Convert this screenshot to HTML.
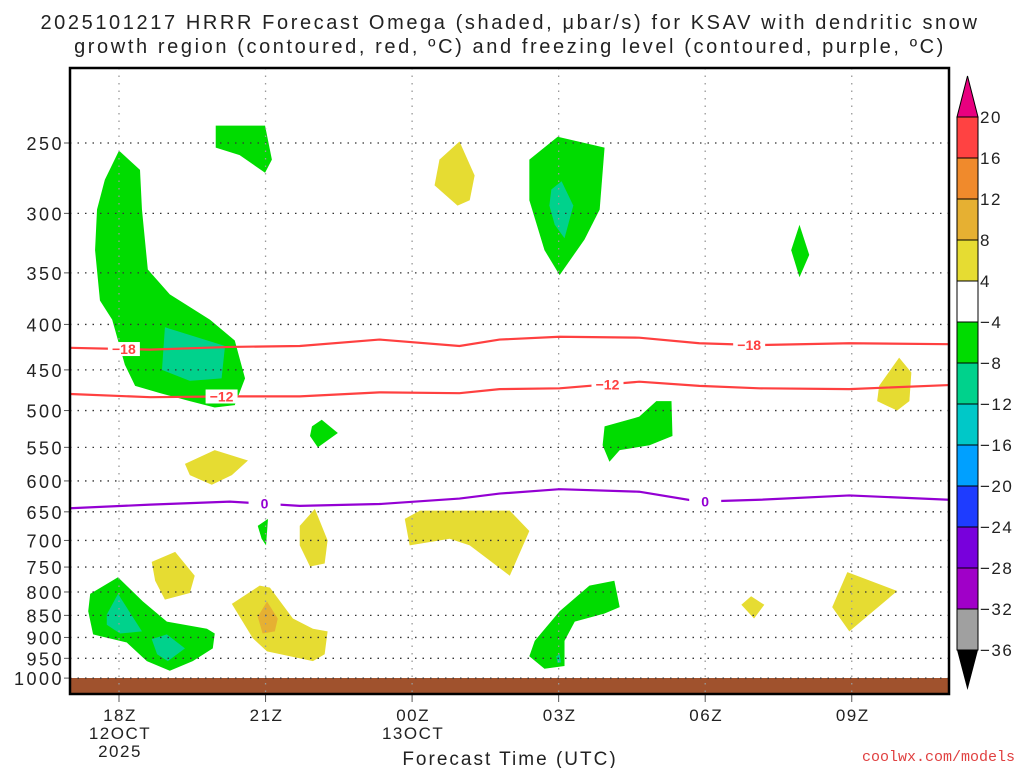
<!DOCTYPE html>
<html><head><meta charset="utf-8"><style>
body{margin:0;background:#fff;width:1024px;height:768px;overflow:hidden}
svg text{font-family:"Liberation Sans",sans-serif}
</style></head><body>
<svg id="c" width="1024" height="768" xmlns="http://www.w3.org/2000/svg">
<text x="510" y="29" font-size="20" letter-spacing="2.6" text-anchor="middle" fill="#222">2025101217 HRRR Forecast Omega (shaded, μbar/s) for KSAV with dendritic snow</text>
<text x="510" y="53" font-size="20" letter-spacing="2.6" text-anchor="middle" fill="#222">growth region (contoured, red, ºC) and freezing level (contoured, purple, ºC)</text>
<g id="plot"></g>
<text x="510" y="765" font-size="19" letter-spacing="2" text-anchor="middle" fill="#222">Forecast Time (UTC)</text>
<text x="1015" y="761" font-size="15" text-anchor="end" fill="#e04040" style="font-family:'Liberation Mono',monospace">coolwx.com/models</text>
<g id="cbar"></g>
</svg>
<script>
const pressureTicks=[250,300,350,400,450,500,550,600,650,700,750,800,850,900,950,1000];
const timeTicks=[0,3,6,9,12,15];
const timeLabels=[["18Z","12OCT","2025"],["21Z"],["00Z","13OCT"],["03Z"],["06Z"],["09Z"]];
const cbarLevels=[20,16,12,8,4,-4,-8,-12,-16,-20,-24,-28,-32,-36];
const cbarColors=["#ff4242","#f08a2c","#e6b032","#e6dc32","#ffffff","#00dc00","#00d28c","#00c8c8","#00a0ff","#1e3cff","#7800dc","#a000c8","#a0a0a0"];
const green="#00dc00",teal="#00d28c",yel="#e6dc32",org="#e6b032";
const regions=[
[green,[[0,255],[0.43,268],[0.47,297],[0.59,347],[1.04,370],[1.86,395],[2.37,417],[2.58,460],[2.37,493],[1.96,496],[1.45,488],[0.84,478],[0.33,469],[0.12,444],[-0.14,395],[-0.39,376],[-0.49,330],[-0.45,297],[-0.29,275]]],
[teal,[[0.94,403],[2.17,423],[2.1,460],[1.45,463],[0.88,450]]],
[green,[[1.98,239],[2.99,239],[3.13,261],[2.99,270],[2.47,258],[1.98,253]]],
[yel,[[6.56,261],[6.97,249],[7.28,272],[7.18,290],[6.93,294],[6.46,279]]],
[green,[[8.4,261],[8.98,246],[9.94,253],[9.84,297],[9.53,321],[9.02,352],[8.71,330],[8.4,290]]],
[teal,[[8.85,282],[9.06,276],[9.3,294],[9.12,320],[8.92,309],[8.81,294]]],
[green,[[13.93,309],[14.13,334],[13.93,354],[13.76,330]]],
[yel,[[15.56,469],[15.97,436],[16.22,453],[16.18,488],[15.93,500],[15.52,488]]],
[green,[[9.94,521],[10.65,508],[11.0,488],[11.31,488],[11.33,534],[10.86,547],[10.25,554],[10.04,571],[9.9,547]]],
[green,[[3.95,521],[4.15,512],[4.48,530],[4.07,550],[3.91,534]]],
[yel,[[1.35,574],[1.96,554],[2.64,569],[2.31,591],[1.9,606],[1.45,591]]],
[green,[[2.84,674],[3.05,662],[3.01,709],[2.92,697]]],
[yel,[[3.7,674],[4.01,645],[4.27,700],[4.21,743],[3.91,749],[3.7,709]]],
[yel,[[5.85,662],[6.16,648],[8.0,648],[8.4,683],[8.0,767],[7.18,709],[6.77,697],[5.95,709]]],
[yel,[[0.67,740],[1.15,721],[1.55,767],[1.45,802],[0.94,816],[0.74,777]]],
[green,[[-0.59,804],[-0.02,770],[0.49,820],[0.98,864],[1.8,880],[1.96,891],[1.92,926],[1.51,957],[1.04,981],[0.57,957],[0.16,912],[-0.53,893],[-0.63,841]]],
[teal,[[-0.25,848],[-0.02,804],[0.47,886],[0.02,891],[-0.25,871]]],
[teal,[[0.67,904],[0.98,893],[1.35,926],[1.0,957],[0.78,940]]],
[yel,[[2.31,825],[2.88,787],[3.09,791],[3.56,857],[3.97,880],[4.27,886],[4.21,940],[3.97,957],[3.03,933],[2.74,902]]],
[org,[[3.03,820],[3.25,857],[3.19,886],[2.94,891],[2.84,853]]],
[green,[[9.02,841],[9.63,787],[10.14,777],[10.25,832],[9.94,846],[9.33,864],[9.12,908],[9.12,969],[8.71,976],[8.4,945],[8.51,908]]],
[teal,[[8.95,945],[9.02,940],[9.05,960],[8.98,962]]],
[yel,[[12.94,809],[13.21,827],[13.0,857],[12.74,827]]],
[yel,[[14.91,760],[15.93,798],[14.95,886],[14.6,832]]]
];
const lineHours=[-1,0.64,2.27,3.7,5.33,6.97,7.79,9.02,10.65,11.88,13.11,14.95,17];
const dgz18=[425,427,424,423,416,423,416,413,414,420,422,420,421];
const dgz12=[479,483,482,482,477,478,473,472,464,469,472,473,468];
const frz0=[644,638,633,640,637,628,620,613,617,633,630,623,630];
const ns="http://www.w3.org/2000/svg";
const L=70,R=949,T=68,B=694;
const X=h=>119+h*48.85;
const Y=p=>143+386*Math.log(p/250);
const plot=document.getElementById('plot');
function mk(tag,attrs,parent){const e=document.createElementNS(ns,tag);for(const k in attrs)e.setAttribute(k,attrs[k]);(parent||plot).appendChild(e);return e;}
const defsEl=mk('defs',{});const cp=mk('clipPath',{id:'pc'},defsEl);mk('rect',{x:L,y:T,width:R-L,height:B-T},cp);
const g=mk('g',{'clip-path':'url(#pc)'});
regions.forEach((r,i)=>{const e=mk('polygon',{points:r[1].map(q=>X(q[0])+','+Y(q[1])).join(' '),fill:r[0]},g);

});
const gr=mk('rect',{x:L,y:678,width:R-L,height:B-678,fill:'#a0522d'},g);


pressureTicks.forEach(p=>{const e=mk('line',{x1:L,x2:R,y1:Y(p),y2:Y(p),stroke:'#333','stroke-width':1.3,'stroke-dasharray':'1.5 6'},g);


const t=mk('text',{x:64,y:Y(p)+7,'font-size':18,'letter-spacing':2.5,'text-anchor':'end',fill:'#222'});t.textContent=p;


mk('line',{x1:L-6,x2:L,y1:Y(p),y2:Y(p),stroke:'#555'});});
timeTicks.forEach((h,i)=>{const e=mk('line',{x1:X(h),x2:X(h),y1:T,y2:B,stroke:'#999','stroke-width':1.3,'stroke-dasharray':'1.5 6'},g);


mk('line',{x1:X(h),x2:X(h),y1:B,y2:B+8,stroke:'#555'});
timeLabels[i].forEach((s,j)=>{const t=mk('text',{x:X(h)+1,y:721+j*18,'font-size':17,'letter-spacing':1.5,'text-anchor':'middle',fill:'#222'});t.textContent=s;

});});
function line(vals,color,name,labels,lab){const d=lineHours.map((h,i)=>(i?'L':'M')+X(h)+','+Y(vals[i])).join('');
const e=mk('path',{d:d,fill:'none',stroke:color,'stroke-width':2.2},g);


labels.forEach(h=>{let i=0;while(i<lineHours.length-2&&lineHours[i+1]<h)i++;const f=(h-lineHours[i])/(lineHours[i+1]-lineHours[i]);const p=vals[i]+f*(vals[i+1]-vals[i]);
mk('rect',{x:X(h)-16,y:Y(p)-7,width:32,height:14,fill:'#fff'},g);
const t=mk('text',{x:X(h),y:Y(p)+5,'font-size':14,'font-weight':'bold','text-anchor':'middle',fill:color},g);t.textContent=lab;

});}
line(dgz18,'#ff4040','dgz-minus18-contour',[0.1,12.9],'−18');
line(dgz12,'#ff4040','dgz-minus12-contour',[2.1,10.0],'−12');
line(frz0,'#9400d3','freezing-level-contour',[2.98,12.0],'0');
mk('rect',{x:L,y:T,width:R-L,height:B-T,fill:'none',stroke:'#000','stroke-width':2.5});
const cb=document.getElementById('cbar');const cx=957,cw=21,cbTop=117,bh=41;
mk('polygon',{points:`${cx},${cbTop} ${cx+cw/2},76 ${cx+cw},${cbTop}`,fill:'#e8007f',stroke:'#000'},cb);
cbarColors.forEach((c,i)=>{const e=mk('rect',{x:cx,y:cbTop+i*bh,width:cw,height:bh,fill:c,stroke:'#000','stroke-width':1},cb);

});
const cbBot=cbTop+cbarColors.length*bh;
mk('polygon',{points:`${cx},${cbBot} ${cx+cw/2},690 ${cx+cw},${cbBot}`,fill:'#000'},cb);
cbarLevels.forEach((v,i)=>{const t=mk('text',{x:980,y:cbTop+i*bh+6,'font-size':17,'letter-spacing':1.5,fill:'#222'},cb);t.textContent=v<0?'−'+(-v):v;

});
</script>
</body></html>
